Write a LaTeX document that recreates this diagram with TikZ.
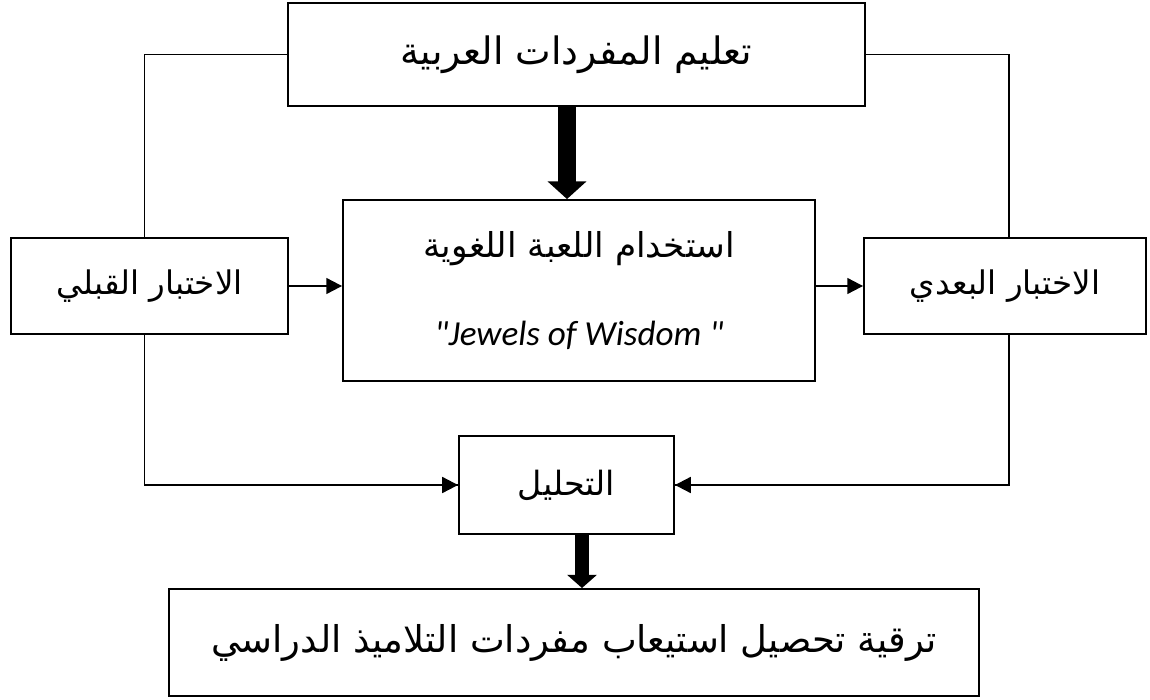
\documentclass[tikz,border=0pt]{standalone}
\usepackage{fontspec}
\usetikzlibrary{arrows.meta}
\newfontfamily\arabicfont[Script=Arabic]{DejaVu Sans}
\newfontfamily\latinfont{Carlito}
\TeXXeTstate=1

\begin{document}
\begin{tikzpicture}[x=0.02cm,y=-0.02cm,
    box/.style={draw,line width=1.1pt,inner sep=0pt,align=center},
    thinline/.style={line width=0.6pt},
    midline/.style={line width=0.9pt},
    conn/.style={line width=1.2pt,-{Triangle[width=9pt,length=9pt]}},
    fatarrow/.style={line width=10pt,-{Triangle[width=21.5pt,length=10pt]}},
    fatarrowsmall/.style={line width=8pt,-{Triangle[width=16.5pt,length=7.5pt]}}]
\useasboundingbox (0,0) rectangle (1150,700);
\node[box,minimum width=11.54cm,minimum height=2.06cm] (teach) at (576.5,54.5)
    {\arabicfont\fontsize{21.5}{25}\selectfont\beginR تعليم المفردات العربية\endR};
\node[box,minimum width=9.44cm,minimum height=3.62cm] (game) at (579,290.5)
    {\arabicfont\fontsize{19.5}{23}\selectfont\beginR استخدام اللعبة اللغوية\endR\\[30pt]
     {\latinfont\itshape\fontsize{20}{23}\selectfont "Jewels of Wisdom "}};
\node[box,minimum width=5.54cm,minimum height=1.92cm] (pretest) at (149.5,286)
    {\arabicfont\fontsize{18.5}{22}\selectfont\beginR الاختبار القبلي\endR};
\node[box,minimum width=5.64cm,minimum height=1.92cm] (posttest) at (1005,286)
    {\arabicfont\fontsize{18.5}{22}\selectfont\beginR الاختبار البعدي\endR};
\node[box,minimum width=4.3cm,minimum height=1.96cm] (analysis) at (566.5,485)
    {\arabicfont\fontsize{19}{22}\selectfont\beginR التحليل\endR};
\node[box,minimum width=16.2cm,minimum height=2.14cm] (result) at (574,642.5)
    {\arabicfont\fontsize{21}{25}\selectfont\beginR ترقية تحصيل استيعاب مفردات التلاميذ الدراسي\endR};

\draw[thinline] (teach.west) -| ([xshift=-0.1cm]pretest.north)
                (teach.east) -| ([xshift=0.08cm]posttest.north);
\draw[midline] ([xshift=-0.1cm]pretest.south) |- (analysis.west);
\draw[midline] ([xshift=0.08cm]posttest.south) |- (analysis.east);
\draw[conn] ([xshift=-0.1cm]pretest.south |- analysis.west) -- (analysis.west);
\draw[conn] ([xshift=0.08cm]posttest.south |- analysis.east) -- (analysis.east);
\draw[conn] (pretest.east) -- (pretest.east -| game.west);
\draw[conn] (game.east |- posttest.west) -- (posttest.west);
\draw[fatarrow] ([xshift=-0.19cm]teach.south) -- ([xshift=-0.19cm]teach.south |- game.north);
\draw[fatarrowsmall] ([xshift=0.31cm]analysis.south) -- ([xshift=0.31cm]analysis.south |- result.north);
\end{tikzpicture}
\end{document}
